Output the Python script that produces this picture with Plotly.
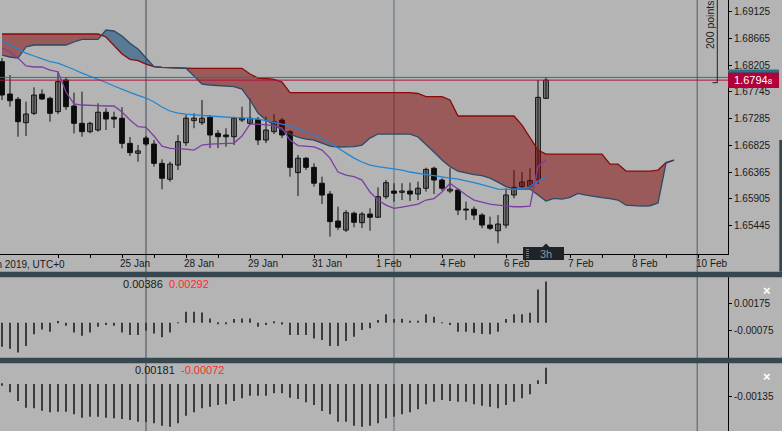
import numpy as np
import plotly.graph_objects as go

W, H = 782, 431

# ---------------- data ----------------
candle_idx = list(range(69))
open_ = [1.68265, 1.67709, 1.67618, 1.67216, 1.67377, 1.67706, 1.67635, 1.67406, 1.67950, 1.67503,
         1.67205, 1.67062, 1.67090, 1.67396, 1.67310, 1.67293, 1.66861, 1.66690, 1.66952, 1.66849,
         1.66517, 1.66244, 1.66488, 1.66871, 1.67252, 1.67216, 1.67310, 1.67033, 1.67004, 1.66975,
         1.67262, 1.67205, 1.67274, 1.66918, 1.67062, 1.67262, 1.67062, 1.66357, 1.66605, 1.66448,
         1.66175, 1.65989, 1.65525, 1.65370, 1.65659, 1.65497, 1.65645, 1.65590, 1.65944, 1.66041,
         1.66019, 1.66041, 1.65989, 1.66089, 1.66433, 1.66230, 1.66041, 1.66058, 1.65731, 1.65728,
         1.65628, 1.65456, 1.65358, 1.65456, 1.65972, 1.66116, 1.66116, 1.66230, 1.67635]
high = [1.68328, 1.68036, 1.67658, 1.67577, 1.67824, 1.67790, 1.67664, 1.68094, 1.67998, 1.67733,
        1.67750, 1.67233, 1.67549, 1.67465, 1.67406, 1.67482, 1.66970, 1.66832, 1.66987, 1.66918,
        1.66586, 1.66545, 1.67004, 1.67348, 1.67377, 1.67606, 1.67348, 1.67090, 1.67121, 1.67320,
        1.67491, 1.67635, 1.67314, 1.67320, 1.67362, 1.67297, 1.67090, 1.66662, 1.66626, 1.66517,
        1.66288, 1.66041, 1.65773, 1.65714, 1.65686, 1.65680, 1.65744, 1.66105, 1.66230, 1.66175,
        1.66175, 1.66185, 1.66202, 1.66443, 1.66461, 1.66261, 1.66433, 1.66089, 1.65858, 1.65773,
        1.65659, 1.65601, 1.65628, 1.66089, 1.66402, 1.66368, 1.66433, 1.67950, 1.67998]
low = [1.67606, 1.67491, 1.66975, 1.66987, 1.67348, 1.67606, 1.67233, 1.67365, 1.67434, 1.67033,
       1.66975, 1.67033, 1.67062, 1.67090, 1.67124, 1.66775, 1.66643, 1.66545, 1.66815, 1.66461,
       1.66072, 1.66202, 1.66402, 1.66815, 1.67121, 1.67176, 1.66780, 1.66780, 1.66803, 1.66832,
       1.67228, 1.67176, 1.66832, 1.66866, 1.67021, 1.66952, 1.66288, 1.65955, 1.66402, 1.66116,
       1.65817, 1.65256, 1.65370, 1.65336, 1.65418, 1.65404, 1.65358, 1.65578, 1.65903, 1.65858,
       1.65886, 1.65869, 1.65886, 1.66030, 1.65989, 1.66047, 1.66003, 1.65628, 1.65542, 1.65542,
       1.65401, 1.65370, 1.65141, 1.65401, 1.65917, 1.66077, 1.66094, 1.66161, 1.67623]
close = [1.67692, 1.67594, 1.67233, 1.67365, 1.67692, 1.67623, 1.67377, 1.67921, 1.67491, 1.67205,
         1.67062, 1.67205, 1.67396, 1.67279, 1.67279, 1.66861, 1.66701, 1.66731, 1.66849, 1.66517,
         1.66261, 1.66505, 1.66889, 1.67293, 1.67293, 1.67293, 1.67004, 1.66975, 1.66975, 1.67293,
         1.67293, 1.67293, 1.66918, 1.67090, 1.67233, 1.67004, 1.66448, 1.66605, 1.66448, 1.66175,
         1.65972, 1.65515, 1.65418, 1.65669, 1.65504, 1.65645, 1.65590, 1.65944, 1.66185, 1.66003,
         1.66041, 1.65989, 1.66089, 1.66414, 1.66230, 1.66089, 1.66072, 1.65714, 1.65714, 1.65628,
         1.65456, 1.65401, 1.65473, 1.65972, 1.66105, 1.66196, 1.66220, 1.67652, 1.67948]

ma_line = [1.68621, 1.68552, 1.68483, 1.68414, 1.68363, 1.68311, 1.68265, 1.68242, 1.68191, 1.68131,
           1.68070, 1.68019, 1.67959, 1.67907, 1.67847, 1.67787, 1.67736, 1.67685, 1.67640, 1.67572,
           1.67486, 1.67417, 1.67382, 1.67365, 1.67348, 1.67343, 1.67331, 1.67319, 1.67310, 1.67305,
           1.67300, 1.67293, 1.67279, 1.67253, 1.67228, 1.67193, 1.67159, 1.67116, 1.67056, 1.67004,
           1.66944, 1.66866, 1.66780, 1.66694, 1.66608, 1.66540, 1.66488, 1.66462, 1.66445, 1.66431,
           1.66402, 1.66368, 1.66342, 1.66325, 1.66307, 1.66282, 1.66264, 1.66247, 1.66221, 1.66187,
           1.66152, 1.66110, 1.66075, 1.66070, 1.66070, 1.66087, 1.66114, 1.66213, 1.66299]
step_line = [1.68500, 1.68432, 1.68328, 1.68191, 1.68174, 1.68174, 1.68122, 1.68093, 1.67744, 1.67538,
             1.67520, 1.67520, 1.67511, 1.67503, 1.67503, 1.67400, 1.67262, 1.67147, 1.67136, 1.66987,
             1.66814, 1.66775, 1.66775, 1.66763, 1.66746, 1.66832, 1.66849, 1.66858, 1.66861, 1.66866,
             1.66987, 1.67193, 1.67193, 1.67185, 1.67167, 1.67124, 1.66918, 1.66823, 1.66814, 1.66802,
             1.66746, 1.66608, 1.66368, 1.66316, 1.66287, 1.66230, 1.66024, 1.65886, 1.65800, 1.65743,
             1.65766, 1.65791, 1.65817, 1.65886, 1.65912, 1.66024, 1.66173, 1.66075, 1.65972, 1.65886,
             1.65852, 1.65817, 1.65800, 1.65783, 1.65771, 1.65771, 1.65783, 1.66459, 1.66574]

cloud_idx = list(range(85))
span_a = [1.68741] * 13 + [1.68690, 1.68552, 1.68397, 1.68306, 1.68285, 1.68225, 1.68179, 1.68168,
          1.68162, 1.68156] + [1.68151] * 8 + [1.68053, 1.67984, 1.67976, 1.67962, 1.67916] + \
         [1.67732] * 16 + [1.67718, 1.67663, 1.67663, 1.67663, 1.67606] + [1.67331] * 8 + \
         [1.67176, 1.66970, 1.66746] + [1.66677] * 8 + [1.66505, 1.66505, 1.66385, 1.66385, 1.66385,
          1.66385, 1.66402, 1.66531, 1.66574]
span_b = [1.68380, 1.68346, 1.68328, 1.68518, 1.68552, 1.68552, 1.68552, 1.68552, 1.68552, 1.68604,
          1.68650, 1.68650, 1.68650, 1.68810, 1.68793, 1.68707, 1.68581, 1.68483, 1.68328, 1.68179,
          1.68168, 1.68162, 1.68156, 1.68151, 1.68019, 1.67881, 1.67864, 1.67855, 1.67847, 1.67838,
          1.67795, 1.67606, 1.67382, 1.67262, 1.67176, 1.67090, 1.67021, 1.66970, 1.66935, 1.66918,
          1.66866, 1.66814, 1.66798, 1.66798, 1.66806, 1.66832, 1.66952, 1.67021, 1.67021, 1.67021,
          1.67021, 1.67021, 1.66970, 1.66849, 1.66712, 1.66574, 1.66459, 1.66385, 1.66350, 1.66325,
          1.66307, 1.66264, 1.66195, 1.66118, 1.66075, 1.66075, 1.66075, 1.65972, 1.65869, 1.65915,
          1.65903, 1.65932, 1.66001, 1.65972, 1.65946, 1.65929, 1.65912, 1.65886, 1.65800, 1.65791,
          1.65783, 1.65788, 1.65834, 1.66522, 1.66574]

osc1 = [-0.00224, -0.00243, -0.00278, -0.00218, -0.00109, -0.00063, -0.00084, 0.00016, -0.00028, -0.00091,
        -0.00121, -0.00091, -0.00037, -0.00021, -0.00028, -0.00091, -0.00115, -0.00115, -0.00075, -0.00100,
        -0.00137, -0.00091, 0.00003, 0.00103, 0.00103, 0.00096, 0.00040, -0.00009, -0.00009, 0.00035,
        0.00040, 0.00040, -0.00037, -0.00021, 0.00009, -0.00016, -0.00115, -0.00115, -0.00115, -0.00147,
        -0.00162, -0.00218, -0.00218, -0.00171, -0.00131, -0.00068, -0.00053, 0.00025, 0.00078, 0.00035,
        0.00037, 0.00019, 0.00019, 0.00078, 0.00056, 0.00003, -0.00021, -0.00084, -0.00084, -0.00093,
        -0.00106, -0.00109, -0.00084, 0.00035, 0.00078, 0.00078, 0.00093, 0.00311, 0.00386]
osc2 = [-0.00019, -0.00092, -0.00189, -0.00263, -0.00270, -0.00297, -0.00314, -0.00308, -0.00308, -0.00337,
        -0.00374, -0.00363, -0.00363, -0.00374, -0.00381, -0.00389, -0.00400, -0.00419, -0.00422, -0.00437,
        -0.00463, -0.00474, -0.00437, -0.00352, -0.00314, -0.00270, -0.00252, -0.00233, -0.00226, -0.00189,
        -0.00159, -0.00130, -0.00130, -0.00130, -0.00103, -0.00103, -0.00152, -0.00167, -0.00203, -0.00233,
        -0.00300, -0.00337, -0.00419, -0.00419, -0.00463, -0.00474, -0.00463, -0.00437, -0.00381, -0.00363,
        -0.00337, -0.00314, -0.00281, -0.00226, -0.00197, -0.00178, -0.00189, -0.00197, -0.00197, -0.00226,
        -0.00241, -0.00252, -0.00270, -0.00233, -0.00197, -0.00159, -0.00114, 0.00041, 0.00181]

bid_price = 1.67948
ask_price = 1.67995
price_ticks = [1.69125, 1.68665, 1.68205, 1.67745, 1.67285, 1.66825, 1.66365, 1.65905, 1.65445]
osc1_ticks = [0.00175, -0.00075]
osc2_ticks = [-0.00135]
date_tick_idx = list(range(7, 88, 4))
date_tick_text = ["", "", "25 Jan", "", "28 Jan", "", "29 Jan", "", "31 Jan", "", "1 Feb", "",
                  "4 Feb", "", "6 Feb", "", "7 Feb", "", "8 Feb", "", "10 Feb"]
first_date_label = "24 Jan 2019, UTC+0"
osc1_labels = ("0.00386", "0.00292")
osc2_labels = ("0.00181", "-0.00072")
vlines = [18, 49, 86.9]

# ---------------- styles ----------------
BG = "#b4b4b4"
SEP = "#37474f"
FONT = "Liberation Sans, Arial, sans-serif"
X_RANGE = [-0.25, 90.75]
P_RANGE = [1.64953, 1.69326]
O1_RANGE = [-0.003271, 0.004243]
O2_RANGE = [-0.005222, 0.0023]


def px(x):
    return x / W


def py(y):
    return 1 - y / H


fig = go.Figure()

# wicks
wx, wy = [], []
for i, h, l in zip(candle_idx, high, low):
    wx += [i, i, None]
    wy += [l, h, None]
fig.add_trace(go.Scatter(x=wx, y=wy, mode="lines", line=dict(color="#111111", width=1),
                         hoverinfo="skip", showlegend=False))

# bodies
o = np.array(open_); c = np.array(close)
base = np.minimum(o, c)
hgt = np.maximum(np.abs(c - o), 0.00004)
cols = ["#7a7a7a" if cc >= oo else "#0a0a0a" for oo, cc in zip(open_, close)]
fig.add_trace(go.Bar(x=candle_idx, y=hgt, base=base, width=0.6, marker=dict(color=cols,
                     line=dict(color="#111111", width=1)), showlegend=False, hoverinfo="skip"))

# cloud
A = np.array(span_a); B = np.array(span_b); xs = np.array(cloud_idx, dtype=float)
cx, ca, cb = [], [], []
for k in range(len(xs)):
    if k > 0:
        d0 = A[k - 1] - B[k - 1]; d1 = A[k] - B[k]
        if d0 * d1 < 0:
            t = d0 / (d0 - d1)
            v = A[k - 1] + t * (A[k] - A[k - 1])
            cx.append(xs[k - 1] + t); ca.append(v); cb.append(v)
    cx.append(xs[k]); ca.append(A[k]); cb.append(B[k])
cx = np.array(cx); ca = np.array(ca); cb = np.array(cb)
lo = np.minimum(ca, cb)
fig.add_trace(go.Scatter(x=list(cx) + list(cx[::-1]), y=list(ca) + list(lo[::-1]), fill="toself",
                         fillcolor="rgba(128,0,0,0.5)", line=dict(width=0), mode="lines",
                         hoverinfo="skip", showlegend=False))
fig.add_trace(go.Scatter(x=list(cx) + list(cx[::-1]), y=list(cb) + list(lo[::-1]), fill="toself",
                         fillcolor="rgba(0,62,112,0.5)", line=dict(width=0), mode="lines",
                         hoverinfo="skip", showlegend=False))
fig.add_trace(go.Scatter(x=cloud_idx, y=span_a, mode="lines", line=dict(color="#8b0a0a", width=1.3),
                         hoverinfo="skip", showlegend=False))
fig.add_trace(go.Scatter(x=cloud_idx, y=span_b, mode="lines", line=dict(color="#2a4a6a", width=1.3),
                         hoverinfo="skip", showlegend=False))

fig.add_trace(go.Scatter(x=candle_idx, y=ma_line, mode="lines", line=dict(color="#1f86d6", width=1.3),
                         hoverinfo="skip", showlegend=False))
fig.add_trace(go.Scatter(x=candle_idx, y=step_line, mode="lines", line=dict(color="#7b3fa0", width=1.3),
                         hoverinfo="skip", showlegend=False))

# oscillators
fig.add_trace(go.Bar(x=candle_idx, y=osc1, width=0.24, marker=dict(color="#3c3c3c", line=dict(width=0)),
                     xaxis="x2", yaxis="y2", showlegend=False, hoverinfo="skip"))
fig.add_trace(go.Bar(x=candle_idx, y=osc2, width=0.24, marker=dict(color="#3c3c3c", line=dict(width=0)),
                     xaxis="x3", yaxis="y3", showlegend=False, hoverinfo="skip"))

shapes = []
vcols = ["#3e4e5a", "#7a8893", "#4a5c6a"]
vw = [1, 1.6, 1]
for v, cc, ww in zip(vlines, vcols, vw):
    shapes.append(dict(type="line", xref="x", yref="paper", x0=v, x1=v, y0=0, y1=1,
                       line=dict(color=cc, width=ww), layer="below"))
# bid / ask lines
shapes.append(dict(type="line", xref="paper", yref="y", x0=0, x1=px(728), y0=ask_price, y1=ask_price,
                   line=dict(color="#1b7a88", width=1), layer="above"))
shapes.append(dict(type="line", xref="paper", yref="y", x0=0, x1=px(728), y0=bid_price, y1=bid_price,
                   line=dict(color="#b0103c", width=1), layer="above"))
# 200 points bracket
shapes.append(dict(type="line", xref="paper", yref="paper", x0=px(717.3), x1=px(717.3), y0=py(0), y1=py(82.7),
                   line=dict(color="#222222", width=1)))
shapes.append(dict(type="line", xref="paper", yref="paper", x0=px(712.5), x1=px(717.3), y0=py(82.7), y1=py(82.7),
                   line=dict(color="#222222", width=1)))
# price labels
shapes.append(dict(type="rect", xref="paper", yref="paper", x0=px(728), x1=px(779), y0=py(85.5), y1=py(69.5),
                   fillcolor="#1b7a88", line=dict(width=0), layer="above"))
shapes.append(dict(type="rect", xref="paper", yref="paper", x0=px(728), x1=px(779), y0=py(88), y1=py(72.5),
                   fillcolor="#b0003a", line=dict(width=0), layer="above"))
# separators
shapes.append(dict(type="rect", xref="paper", yref="paper", x0=0, x1=1, y0=py(277.3), y1=py(271.7),
                   fillcolor=SEP, line=dict(width=0), layer="above"))
shapes.append(dict(type="rect", xref="paper", yref="paper", x0=0, x1=1, y0=py(363.3), y1=py(357.7),
                   fillcolor=SEP, line=dict(width=0), layer="above"))
shapes.append(dict(type="rect", xref="paper", yref="paper", x0=px(779.3), x1=1, y0=py(271.7), y1=py(140),
                   fillcolor=SEP, line=dict(width=0), layer="above"))
# timeframe badge
shapes.append(dict(type="rect", xref="paper", yref="paper", x0=px(523), x1=px(564), y0=py(260), y1=py(247),
                   fillcolor="#1d2328", line=dict(width=0), layer="above"))
shapes.append(dict(type="path", xref="paper", yref="paper",
                   path=f"M {px(542.5)} {py(247)} L {px(546)} {py(243.5)} L {px(549.5)} {py(247)} Z",
                   fillcolor="#1d2328", line=dict(width=0), layer="above"))
for gy in (249.5, 251.5, 253.5, 255.5, 257.5):
    shapes.append(dict(type="line", xref="paper", yref="paper", x0=px(526), x1=px(531), y0=py(gy), y1=py(gy),
                       line=dict(color="#6c737a", width=1, dash="dot"), layer="above"))

annotations = []
annotations.append(dict(text=first_date_label, xref="paper", yref="paper", x=px(67), y=py(264.5),
                        xanchor="right", yanchor="middle", showarrow=False,
                        font=dict(family=FONT, size=10, color="#1a1a1a")))
annotations.append(dict(text="200 points", xref="paper", yref="paper", x=px(710), y=py(25),
                        textangle=-90, showarrow=False, xanchor="center", yanchor="middle",
                        font=dict(family=FONT, size=10.5, color="#222222")))
annotations.append(dict(text="1.6794<span style='font-size:8px'>8</span>", xref="paper", yref="paper",
                        x=px(732), y=py(80.3), xanchor="left", yanchor="middle", showarrow=False,
                        font=dict(family=FONT, size=11, color="#ffffff")))
annotations.append(dict(text="3h", xref="paper", yref="paper", x=px(546), y=py(253.5), xanchor="center",
                        yanchor="middle", showarrow=False, font=dict(family=FONT, size=11, color="#8f969c")))
for (t1, t2), yy, x1, x2 in [(osc1_labels, 284, 120.7, 166.7), (osc2_labels, 370, 133, 179)]:
    annotations.append(dict(text=t1, xref="paper", yref="paper", x=px(x1), y=py(yy), xanchor="left",
                            yanchor="middle", showarrow=False, font=dict(family=FONT, size=11, color="#1a1a1a")))
    annotations.append(dict(text=t2, xref="paper", yref="paper", x=px(x2), y=py(yy), xanchor="left",
                            yanchor="middle", showarrow=False, font=dict(family=FONT, size=11, color="#ff2a2a")))
for yy in (290, 376):
    annotations.append(dict(text="<b>×</b>", xref="paper", yref="paper", x=px(767), y=py(yy), xanchor="center",
                            yanchor="middle", showarrow=False, font=dict(family=FONT, size=13, color="#ffffff")))

axis_font = dict(family=FONT, size=10, color="#1a1a1a")
xd = [0, px(728)]
fig.update_layout(
    width=W, height=H, margin=dict(l=0, r=0, t=0, b=0, pad=0, autoexpand=False),
    paper_bgcolor=BG, plot_bgcolor=BG, barmode="overlay", showlegend=False,
    xaxis=dict(domain=xd, range=X_RANGE, anchor="y", showgrid=False, zeroline=False, showline=True,
               linecolor="#000000", linewidth=1, ticks="outside", ticklen=3, tickcolor="#000000",
               tickvals=date_tick_idx, ticktext=date_tick_text, tickfont=axis_font,
               ticklabelposition="outside right", ticklabelshift=-3, fixedrange=True, automargin=False),
    yaxis=dict(domain=[py(254.3), 1], range=P_RANGE, side="right", anchor="x", showgrid=False,
               zeroline=False, showline=True, linecolor="#000000", linewidth=1, ticks="outside",
               ticklen=3, tickcolor="#000000", tickvals=price_ticks, automargin=False,
               ticktext=[f"{v:.5f}" for v in price_ticks], tickfont=axis_font),
    xaxis2=dict(domain=xd, range=X_RANGE, anchor="y2", visible=False),
    yaxis2=dict(domain=[py(357.7), py(277.3)], range=O1_RANGE, side="right", anchor="x2", showgrid=False,
                zeroline=False, showline=True, linecolor="#000000", ticks="outside", ticklen=3,
                tickcolor="#000000", tickvals=osc1_ticks, ticktext=[f"{v:.5f}" for v in osc1_ticks],
                tickfont=axis_font, automargin=False),
    xaxis3=dict(domain=xd, range=X_RANGE, anchor="y3", visible=False),
    yaxis3=dict(domain=[0, py(363.3)], range=O2_RANGE, side="right", anchor="x3", showgrid=False,
                zeroline=False, showline=True, linecolor="#000000", ticks="outside", ticklen=3,
                tickcolor="#000000", tickvals=osc2_ticks, ticktext=[f"{v:.5f}" for v in osc2_ticks],
                tickfont=axis_font, automargin=False),
    shapes=shapes, annotations=annotations,
)

fig.write_html("out.html", config={"displayModeBar": False},
               post_script="document.body.style.margin='0px';document.body.style.padding='0px';")
